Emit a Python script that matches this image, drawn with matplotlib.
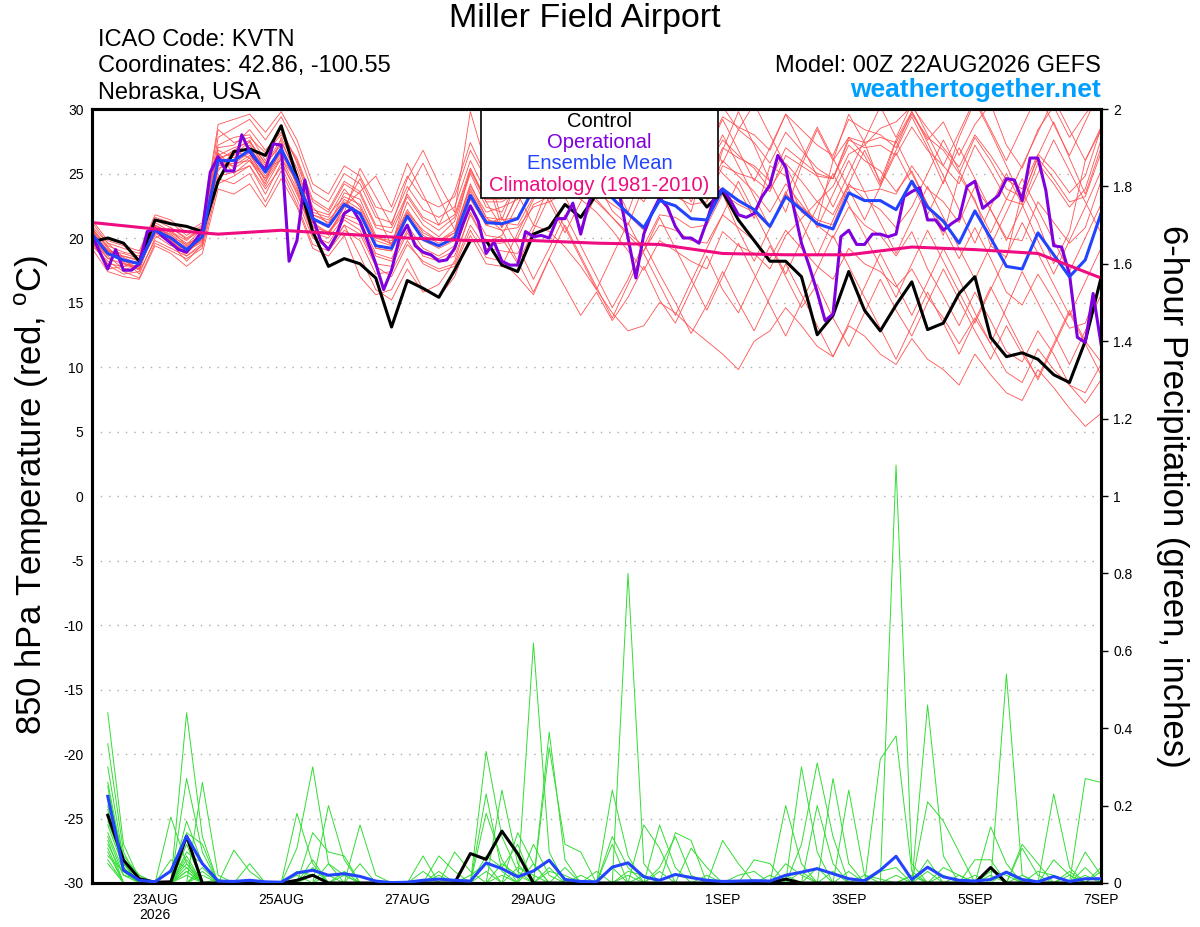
import numpy as np
import pandas as pd
import matplotlib
matplotlib.use("Agg")
import matplotlib.pyplot as plt
from matplotlib.patches import Rectangle

plt.rcParams['font.family'] = ['Liberation Sans', 'DejaVu Sans']
plt.rcParams['mathtext.fontset'] = 'custom'
plt.rcParams['mathtext.rm'] = 'Liberation Sans'
plt.rcParams['axes.unicode_minus'] = False

# ------------------------------------------------------------
# time axes (GEFS 00Z 22AUG2026 run)
# ------------------------------------------------------------
t6 = pd.date_range("2026-08-22 00:00", periods=65, freq="6h")   # ensemble, 6-hourly
t3 = pd.date_range("2026-08-22 00:00", periods=129, freq="3h")  # operational, 3-hourly
t24 = pd.date_range("2026-08-22 00:00", periods=17, freq="D")   # climatology, daily
tp = t6[1:]                                                     # 6-hour precip totals

xtick_dates = ["2026-08-23", "2026-08-25", "2026-08-27", "2026-08-29",
               "2026-09-01", "2026-09-03", "2026-09-05", "2026-09-07"]
xtick_labels = ["23AUG\n2026", "25AUG", "27AUG", "29AUG", "1SEP", "3SEP", "5SEP", "7SEP"]

# ------------------------------------------------------------
# 850 hPa temperature (C)
# ------------------------------------------------------------
control = [19.7, 20.0, 19.6, 18.2, 21.4, 21.1, 20.9, 20.5, 24.4, 26.7, 26.9, 26.4, 28.7,
           24.7, 20.5, 17.8, 18.4, 18.0, 16.9, 13.1, 16.7, 16.1, 15.4, 17.5, 19.8, 19.8,
           17.9, 17.4, 20.3, 20.8, 22.6, 21.6, 23.4, 24.5, 25.0, 24.6, 24.2, 24.6, 24.0,
           22.4, 23.6, 21.4, 19.8, 18.2, 18.2, 17.0, 12.5, 14.0, 17.4, 14.4, 12.8, 14.8,
           16.6, 12.9, 13.4, 15.7, 17.0, 12.3, 10.8, 11.1, 10.6, 9.4, 8.8, 12.0, 16.9]

operational = [20.2, 18.9, 17.6, 19.1, 17.5, 17.5, 18.0, 20.5,
               20.7, 20.1, 19.6, 19.1, 18.9, 19.7, 20.6, 25.1,
               26.3, 25.2, 25.2, 28.0, 26.7, 25.9, 25.3, 27.3,
               27.2, 18.2, 19.8, 24.5, 21.6, 19.8, 19.1, 20.2,
               21.9, 22.3, 21.3, 19.7, 18.0, 16.0, 17.5, 20.0,
               21.0, 19.4, 18.9, 18.7, 18.2, 18.3, 19.2, 21.0,
               22.5, 21.3, 18.8, 19.7, 18.2, 17.9, 17.9, 20.5,
               20.1, 20.2, 20.0, 21.5, 21.5, 22.7, 20.3, 22.7,
               24.2, 24.8, 24.9, 23.1, 20.0, 16.9, 20.3, 21.9,
               23.1, 22.4, 20.9, 20.0, 20.0, 19.6, 21.3, 23.3,
               23.8, 22.9, 21.8, 21.6, 21.9, 23.2, 24.1, 26.4,
               25.5, 22.4, 19.6, 17.8, 15.8, 13.6, 14.1, 20.1,
               20.6, 19.5, 19.5, 20.3, 20.3, 20.1, 20.3, 23.2,
               23.6, 23.9, 21.4, 21.4, 20.6, 21.1, 21.5, 24.0,
               24.4, 22.3, 22.8, 23.3, 24.6, 24.5, 22.9, 26.2,
               26.2, 23.7, 19.4, 19.3, 17.2, 12.3, 11.9, 15.7,
               11.8]

ens_mean = [20.3, 18.8, 18.3, 18.0, 20.6, 20.0, 19.1, 20.1, 26.0, 26.0, 26.8, 25.1, 26.9,
            24.5, 21.5, 20.9, 22.6, 21.9, 19.4, 19.2, 21.7, 19.9, 19.4, 20.0, 23.3, 21.2,
            21.1, 21.5, 23.8, 24.2, 24.6, 24.8, 24.2, 23.1, 21.9, 20.8, 22.9, 22.5, 21.5,
            21.4, 23.8, 22.9, 22.2, 20.9, 23.2, 22.2, 21.1, 20.7, 23.5, 22.9, 22.9, 22.2,
            24.4, 22.4, 21.3, 19.6, 22.1, 20.0, 17.8, 17.6, 20.4, 18.7, 17.0, 18.3, 21.9]

climatology = [21.2, 20.7, 20.3, 20.6, 20.3, 20.0, 19.8, 19.8, 19.6,
               19.5, 18.8, 18.7, 18.7, 19.3, 19.1, 18.8, 16.9]

t_m01 = [20.8, 19.2, 18.0, 17.6, 21.2, 20.5, 19.8, 20.9, 27.2, 27.8, 28.0, 26.0, 28.6,
         25.8, 22.4, 21.0, 23.5, 23.0, 20.2, 19.5, 22.8, 21.0, 20.1, 21.3, 25.0, 22.4,
         22.0, 24.5, 26.0, 27.0, 26.1, 25.0, 24.4, 22.1, 21.0, 24.0, 25.2, 23.8, 22.0,
         26.5, 25.0, 23.8, 21.5, 25.6, 24.8, 22.0, 21.2, 26.0, 27.8, 26.4, 24.0, 27.5,
         25.0, 22.6, 20.2, 24.8, 23.0, 19.4, 18.5, 23.6, 21.2, 18.0, 20.5, 26.0, 28.4]
t_m02 = [19.6, 17.9, 17.2, 17.4, 19.8, 19.2, 18.6, 19.4, 24.8, 25.1, 25.6, 23.8, 25.5,
         23.0, 20.0, 19.2, 21.0, 20.3, 17.8, 17.0, 19.5, 18.2, 17.6, 18.0, 21.0, 19.2,
         19.0, 18.8, 21.0, 20.5, 19.3, 17.8, 16.0, 14.2, 12.8, 13.2, 15.0, 14.2, 13.0,
         12.0, 11.0, 9.8, 12.0, 12.8, 14.6, 13.2, 11.6, 10.8, 13.2, 12.4, 11.0, 10.2,
         12.2, 10.6, 9.8, 8.6, 11.0, 9.4, 8.0, 7.4, 9.8, 8.4, 6.8, 5.4, 6.4]
t_m03 = [20.1, 18.4, 18.6, 18.3, 21.0, 20.2, 19.0, 19.7, 25.6, 26.4, 27.5, 25.8, 27.2,
         24.0, 20.8, 20.5, 22.0, 25.4, 23.2, 21.0, 24.6, 26.8, 24.2, 22.0, 29.8, 25.6,
         21.4, 24.6, 27.2, 29.6, 27.0, 24.8, 28.2, 30.4, 27.0, 24.6, 26.2, 28.8, 26.4,
         23.0, 26.8, 29.8, 27.2, 24.4, 22.0, 25.6, 28.4, 26.0, 29.6, 27.4, 24.2, 26.8,
         29.4, 27.0, 24.2, 27.8, 30.6, 28.2, 25.6, 23.0, 26.4, 29.0, 26.2, 23.4, 27.0]
t_m04 = [19.9, 17.6, 17.8, 17.9, 20.4, 19.6, 18.2, 19.5, 26.5, 25.0, 26.0, 24.2, 27.8,
         25.4, 22.0, 21.6, 23.8, 22.4, 20.0, 19.8, 22.0, 20.6, 19.8, 20.4, 24.2, 21.6,
         20.6, 20.8, 22.4, 22.8, 23.5, 23.0, 22.0, 20.6, 19.0, 17.5, 19.8, 19.0, 18.2,
         17.6, 20.5, 19.4, 18.8, 17.6, 20.2, 21.5, 22.8, 24.0, 26.5, 27.2, 28.5, 29.0,
         30.2, 28.5, 27.0, 25.5, 28.0, 26.4, 24.5, 23.8, 26.5, 25.2, 23.5, 24.8, 28.5]
t_m05 = [20.5, 18.9, 18.4, 17.2, 20.0, 20.6, 19.4, 20.4, 24.6, 24.2, 25.0, 22.8, 25.2,
         22.6, 19.5, 19.0, 20.6, 19.8, 17.2, 17.4, 19.8, 18.0, 17.4, 17.8, 20.6, 18.5,
         18.2, 17.0, 15.6, 18.4, 16.2, 14.0, 15.8, 13.6, 15.4, 17.8, 15.2, 13.4, 16.0,
         18.6, 16.0, 14.2, 16.8, 19.4, 17.0, 14.6, 16.4, 13.8, 11.6, 14.2, 16.8, 14.4,
         12.4, 15.0, 17.6, 15.2, 12.8, 10.6, 13.2, 11.0, 9.2, 11.8, 14.4, 12.0, 10.4]
t_m06 = [20.7, 19.4, 18.9, 18.6, 21.4, 20.8, 19.9, 20.6, 27.8, 28.5, 29.2, 27.6, 29.4,
         27.0, 23.6, 22.8, 25.0, 24.2, 21.6, 21.2, 24.0, 22.2, 21.6, 22.4, 26.0, 23.5,
         23.2, 23.8, 26.4, 27.0, 27.8, 28.0, 27.4, 26.2, 24.8, 23.6, 25.8, 25.0, 23.8,
         23.4, 26.0, 24.8, 23.6, 22.0, 24.2, 22.6, 21.0, 20.0, 22.4, 21.0, 20.2, 18.6,
         20.5, 17.6, 15.5, 13.2, 15.8, 13.6, 11.2, 10.4, 12.8, 11.0, 8.6, 7.2, 9.0]
t_m07 = [20.0, 18.6, 17.6, 17.8, 20.8, 19.8, 18.8, 20.2, 25.2, 26.8, 26.2, 24.6, 26.4,
         24.8, 21.2, 20.2, 22.4, 24.6, 22.0, 19.4, 23.6, 25.8, 23.2, 20.6, 25.4, 22.8,
         20.8, 23.4, 26.8, 28.8, 26.2, 29.4, 27.0, 24.6, 22.0, 25.4, 28.0, 30.2, 28.6,
         26.0, 23.4, 20.6, 18.2, 20.8, 23.6, 21.2, 18.6, 21.4, 24.2, 26.8, 24.4, 27.6,
         29.8, 27.4, 24.8, 22.2, 19.6, 22.4, 25.0, 22.6, 19.8, 17.2, 19.8, 22.4, 25.2]
t_m08 = [20.4, 19.0, 18.2, 18.0, 20.2, 19.4, 19.2, 19.8, 26.2, 26.6, 27.0, 25.4, 26.0,
         23.4, 20.6, 20.4, 21.8, 21.4, 18.8, 18.4, 21.0, 19.2, 18.6, 19.4, 23.0, 21.0,
         21.6, 19.4, 16.8, 19.2, 21.8, 19.4, 17.0, 14.6, 16.8, 19.6, 17.2, 15.0, 12.6,
         14.8, 17.4, 15.0, 12.8, 15.4, 18.0, 15.6, 13.2, 10.8, 13.4, 16.2, 18.8, 16.4,
         14.0, 16.6, 19.2, 16.8, 14.2, 11.8, 14.6, 17.4, 15.0, 12.6, 10.2, 12.8, 15.6]
t_m09 = [21.2, 19.6, 19.2, 18.8, 21.6, 21.2, 20.2, 21.0, 28.4, 27.4, 27.8, 26.6, 28.0,
         26.2, 23.0, 22.2, 24.4, 23.6, 21.0, 20.8, 23.4, 21.6, 21.0, 21.8, 25.4, 23.0,
         23.0, 23.4, 25.8, 26.4, 25.8, 26.6, 26.2, 25.0, 24.0, 22.8, 25.2, 24.6, 24.0,
         24.2, 27.0, 26.2, 25.6, 24.4, 27.0, 26.0, 25.0, 24.6, 27.6, 27.0, 27.2, 26.4,
         28.6, 26.8, 25.6, 24.2, 27.2, 25.2, 23.0, 22.6, 25.8, 24.2, 22.4, 23.8, 27.6]
t_m10 = [19.4, 18.2, 17.4, 16.9, 19.6, 19.0, 18.4, 19.2, 24.2, 24.8, 25.6, 23.4, 25.8,
         23.6, 20.2, 19.6, 21.4, 20.6, 18.0, 17.8, 20.4, 18.6, 18.2, 18.6, 21.8, 19.6,
         19.6, 20.0, 22.6, 23.2, 24.0, 24.6, 23.6, 22.6, 21.8, 20.6, 23.0, 23.2, 22.6,
         22.8, 25.6, 25.0, 24.6, 23.6, 26.4, 25.6, 24.8, 24.6, 27.8, 27.4, 27.8, 27.4,
         29.6, 27.8, 26.8, 25.0, 27.8, 26.0, 23.8, 23.2, 26.2, 24.6, 22.8, 23.2, 26.6]
t_m11 = [20.6, 19.0, 18.8, 18.4, 21.0, 20.4, 19.6, 20.0, 25.8, 25.6, 26.4, 24.8, 26.6,
         24.2, 21.8, 21.4, 22.8, 22.0, 19.2, 19.0, 21.8, 20.0, 19.4, 20.2, 23.6, 21.4,
         21.2, 21.0, 23.2, 23.8, 24.2, 24.0, 23.0, 21.6, 20.2, 19.0, 21.0, 20.6, 19.8,
         19.6, 21.8, 20.8, 19.8, 18.4, 20.6, 19.2, 17.8, 16.8, 19.2, 18.0, 17.4, 16.2,
         17.6, 15.4, 13.8, 11.8, 13.8, 11.8, 9.6, 8.8, 11.4, 9.8, 8.6, 8.0, 10.2]
t_m12 = [19.8, 18.4, 18.0, 17.6, 20.6, 19.6, 18.8, 20.0, 26.8, 26.2, 27.2, 25.6, 27.4,
         25.0, 22.2, 21.8, 23.2, 22.6, 20.0, 19.6, 22.2, 20.4, 19.8, 20.6, 24.0, 22.0,
         22.4, 23.0, 25.4, 26.0, 26.8, 27.6, 27.0, 26.0, 25.2, 24.4, 26.8, 26.6, 26.0,
         25.4, 27.6, 26.4, 25.4, 23.8, 25.8, 24.4, 22.8, 21.8, 24.2, 23.0, 22.2, 20.8,
         22.4, 25.0, 27.6, 25.2, 22.8, 20.4, 23.0, 25.6, 28.2, 30.8, 28.4, 26.0, 28.6]
t_m13 = [20.2, 18.8, 18.6, 18.2, 20.8, 20.0, 19.2, 20.4, 26.0, 26.8, 27.6, 25.2, 27.0,
         24.6, 21.0, 19.0, 21.0, 18.6, 16.0, 15.2, 17.6, 15.8, 16.4, 18.2, 22.0, 19.6,
         20.2, 22.6, 25.2, 22.8, 20.4, 22.8, 25.6, 28.2, 25.8, 23.4, 26.0, 28.6, 30.6,
         28.2, 25.8, 28.4, 30.4, 28.0, 25.6, 23.2, 20.8, 23.4, 26.0, 23.6, 21.2, 18.8,
         21.4, 24.0, 21.6, 19.2, 16.8, 19.4, 22.0, 24.6, 22.2, 19.8, 17.4, 20.0, 22.6]
t_m14 = [20.9, 19.6, 18.5, 17.9, 20.3, 20.8, 20.0, 20.8, 27.0, 27.2, 28.4, 26.8, 28.2,
         26.0, 22.8, 22.0, 24.2, 23.4, 20.8, 20.4, 23.2, 21.4, 20.6, 21.6, 25.2, 22.8,
         22.8, 23.6, 26.2, 27.2, 28.0, 28.8, 28.6, 27.4, 26.4, 25.2, 27.6, 27.4, 26.6,
         26.8, 29.4, 28.6, 28.0, 26.8, 29.6, 28.4, 27.2, 26.4, 29.2, 28.4, 28.0, 27.0,
         29.8, 27.6, 29.0, 26.4, 28.8, 30.4, 27.2, 25.4, 28.4, 30.2, 27.8, 29.6, 31.0]
t_m15 = [19.7, 18.0, 17.8, 18.2, 20.6, 19.8, 18.6, 19.6, 25.4, 25.8, 26.6, 24.4, 26.2,
         23.8, 20.4, 20.0, 21.6, 21.0, 18.6, 18.2, 20.6, 18.8, 18.4, 19.0, 22.4, 20.2,
         20.0, 18.0, 20.6, 23.2, 20.8, 18.4, 16.0, 18.6, 21.2, 18.8, 16.4, 14.0, 16.6,
         19.2, 21.8, 24.4, 22.0, 19.6, 17.2, 19.8, 22.4, 25.0, 22.6, 20.2, 17.8, 15.4,
         18.0, 20.6, 18.2, 15.8, 13.4, 16.0, 18.6, 21.2, 18.8, 16.4, 14.0, 16.6, 19.2]
t_m16 = [20.3, 19.1, 18.3, 18.1, 20.7, 20.3, 19.3, 20.3, 26.4, 27.0, 27.4, 25.8, 27.6,
         24.8, 21.8, 21.2, 23.0, 22.2, 19.8, 19.4, 22.0, 20.2, 19.6, 20.4, 23.8, 21.6,
         21.4, 21.6, 23.6, 23.8, 23.4, 23.6, 22.8, 21.6, 20.4, 19.4, 21.8, 21.6, 20.8,
         21.0, 23.4, 22.6, 22.0, 20.8, 23.4, 22.4, 21.4, 21.0, 24.0, 23.6, 23.8, 23.4,
         25.6, 23.8, 22.8, 21.2, 24.0, 22.2, 20.0, 19.8, 22.8, 21.2, 19.6, 20.8, 24.4]
t_m17 = [21.4, 19.8, 19.4, 19.0, 21.8, 21.4, 20.4, 21.2, 28.8, 29.2, 29.6, 28.2, 29.8,
         27.6, 24.2, 23.4, 25.6, 24.8, 22.4, 22.0, 24.8, 23.0, 22.4, 23.2, 26.8, 24.6,
         24.4, 25.2, 27.8, 28.6, 29.4, 30.6, 31.0, 29.8, 28.0, 26.6, 28.8, 29.4, 30.4,
         30.8, 30.2, 28.4, 27.4, 25.8, 28.2, 26.8, 25.4, 24.6, 27.2, 26.0, 25.2, 23.6,
         25.2, 22.6, 20.8, 18.4, 20.8, 18.4, 15.8, 14.8, 17.2, 15.2, 13.0, 13.4, 16.6]
t_m18 = [19.2, 17.4, 17.0, 16.8, 19.4, 18.8, 17.8, 18.8, 23.8, 23.4, 24.2, 22.4, 24.6,
         22.4, 19.2, 18.6, 20.2, 17.0, 15.6, 16.0, 18.4, 16.0, 15.4, 17.0, 20.2, 18.0,
         17.8, 20.4, 23.0, 25.6, 23.2, 20.8, 23.4, 26.0, 28.6, 26.2, 23.8, 26.4, 29.0,
         26.6, 29.2, 26.8, 24.4, 27.0, 29.6, 27.2, 24.8, 22.4, 25.0, 27.6, 30.2, 27.8,
         30.4, 28.0, 25.6, 28.2, 30.8, 28.4, 26.0, 28.6, 31.2, 28.8, 26.4, 29.0, 31.6]
t_m19 = [20.6, 19.3, 18.1, 17.5, 20.9, 20.1, 19.5, 20.7, 26.6, 25.4, 26.2, 24.0, 26.2,
         24.4, 21.4, 20.8, 22.6, 21.8, 19.2, 19.0, 21.6, 19.8, 19.2, 19.8, 23.2, 21.0,
         20.6, 18.2, 15.8, 18.4, 21.0, 18.6, 16.2, 13.8, 16.4, 19.0, 21.6, 19.2, 16.8,
         14.4, 17.0, 19.6, 17.2, 14.8, 12.4, 15.0, 17.6, 20.2, 17.8, 15.4, 13.0, 10.6,
         13.2, 15.8, 13.4, 11.0, 13.6, 16.2, 13.8, 11.4, 9.0, 11.6, 14.2, 11.8, 9.4]
t_m20 = [20.0, 18.7, 18.2, 17.7, 20.5, 19.9, 18.9, 19.9, 25.6, 25.8, 26.0, 24.6, 26.8,
         24.2, 21.2, 20.4, 22.4, 23.6, 24.8, 22.4, 25.8, 23.4, 21.0, 23.6, 27.4, 24.8,
         20.8, 23.4, 21.0, 24.2, 27.0, 29.6, 27.2, 24.8, 27.4, 30.0, 27.6, 25.2, 22.8,
         25.4, 28.0, 25.6, 23.2, 20.8, 23.4, 26.0, 28.6, 26.2, 23.8, 21.4, 24.0, 26.6,
         24.2, 21.8, 24.4, 27.0, 24.6, 22.2, 19.8, 22.4, 25.0, 27.6, 25.2, 22.8, 20.4]

temp_members = [t_m01, t_m02, t_m03, t_m04, t_m05, t_m06, t_m07, t_m08, t_m09, t_m10,
                t_m11, t_m12, t_m13, t_m14, t_m15, t_m16, t_m17, t_m18, t_m19, t_m20]

# ------------------------------------------------------------
# 6-hour precipitation (inches), steps 1..64
# ------------------------------------------------------------
precip_mean = [0.224, 0.033, 0.007, 0.003, 0.031, 0.121, 0.050, 0.005,
               0.004, 0.007, 0.003, 0.002, 0.026, 0.033, 0.020, 0.024,
               0.017, 0.005, 0.001, 0.002, 0.007, 0.010, 0.007, 0.005,
               0.052, 0.037, 0.016, 0.031, 0.059, 0.009, 0.004, 0.003,
               0.041, 0.052, 0.016, 0.007, 0.022, 0.014, 0.007, 0.004,
               0.005, 0.006, 0.005, 0.020, 0.028, 0.037, 0.024, 0.011,
               0.006, 0.033, 0.069, 0.009, 0.041, 0.016, 0.007, 0.005,
               0.009, 0.028, 0.009, 0.003, 0.017, 0.004, 0.011, 0.011]

precip_control = [0.175, 0.059, 0.011, 0.002, 0.003, 0.121, 0.0, 0.0,
                  0.0, 0.0, 0.0, 0.0, 0.007, 0.020, 0.0, 0.0,
                  0.0, 0.0, 0.0, 0.0, 0.0, 0.0, 0.0, 0.076,
                  0.061, 0.134, 0.076, 0.0, 0.0, 0.0, 0.0, 0.0,
                  0.0, 0.0, 0.0, 0.0, 0.0, 0.0, 0.0, 0.0,
                  0.0, 0.0, 0.0, 0.010, 0.0, 0.0, 0.0, 0.0,
                  0.0, 0.0, 0.0, 0.0, 0.0, 0.0, 0.0, 0.0,
                  0.040, 0.0, 0.0, 0.0, 0.0, 0.0, 0.0, 0.0]

# members: {step: inches}, steps not listed are dry
p_m01 = {1: 0.44, 2: 0.10, 3: 0.01, 6: 0.16, 7: 0.05, 14: 0.06, 25: 0.18, 26: 0.06,
         34: 0.80, 35: 0.05, 46: 0.20, 47: 0.05, 58: 0.54, 59: 0.02}
p_m02 = {1: 0.36, 2: 0.08, 6: 0.44, 7: 0.12, 13: 0.09, 14: 0.30, 15: 0.05, 29: 0.39,
         30: 0.06, 45: 0.10, 46: 0.31, 47: 0.12, 53: 0.06}
p_m03 = {1: 0.26, 2: 0.05, 5: 0.17, 6: 0.05, 22: 0.07, 23: 0.03, 28: 0.62, 29: 0.08,
         33: 0.10, 36: 0.15, 37: 0.04, 51: 1.08, 52: 0.05, 63: 0.08, 64: 0.02}
p_m04 = {1: 0.25, 2: 0.03, 6: 0.27, 7: 0.08, 15: 0.20, 16: 0.06, 25: 0.34, 26: 0.12,
         27: 0.03, 44: 0.20, 45: 0.05, 53: 0.46, 54: 0.07}
p_m05 = {1: 0.18, 2: 0.05, 7: 0.26, 8: 0.02, 13: 0.18, 14: 0.05, 26: 0.24, 27: 0.05,
         33: 0.24, 34: 0.07, 47: 0.27, 48: 0.05, 61: 0.23, 62: 0.04}
p_m06 = {1: 0.15, 2: 0.04, 6: 0.13, 7: 0.10, 17: 0.15, 18: 0.02, 25: 0.23, 26: 0.03,
         37: 0.13, 38: 0.11, 50: 0.32, 51: 0.38, 52: 0.03, 63: 0.27, 64: 0.26}
p_m07 = {1: 0.12, 2: 0.02, 6: 0.10, 9: 0.085, 10: 0.03, 21: 0.07, 29: 0.35, 30: 0.10,
         31: 0.08, 40: 0.11, 41: 0.05, 57: 0.145, 58: 0.05}
p_m08 = {1: 0.09, 6: 0.08, 7: 0.05, 14: 0.13, 15: 0.08, 16: 0.07, 27: 0.13, 28: 0.05,
         35: 0.15, 36: 0.09, 53: 0.21, 54: 0.16, 55: 0.08}
p_m09 = {1: 0.07, 2: 0.03, 6: 0.06, 10: 0.05, 23: 0.08, 24: 0.03, 28: 0.10, 29: 0.02,
         45: 0.30, 46: 0.08, 59: 0.10, 60: 0.05}
p_m10 = {1: 0.05, 5: 0.06, 6: 0.04, 15: 0.05, 16: 0.02, 22: 0.02, 25: 0.07, 26: 0.04,
         27: 0.10, 33: 0.12, 34: 0.04, 48: 0.24, 49: 0.02, 56: 0.06, 57: 0.06}
p_m11 = {1: 0.30, 2: 0.06, 3: 0.02, 7: 0.04, 17: 0.05, 21: 0.03, 26: 0.05, 27: 0.02,
         38: 0.09, 39: 0.04, 42: 0.06, 43: 0.05, 59: 0.09, 60: 0.02}
p_m12 = {1: 0.20, 2: 0.04, 6: 0.05, 14: 0.04, 30: 0.04, 32: 0.03, 36: 0.04, 37: 0.12,
         38: 0.02, 50: 0.03, 51: 0.04, 61: 0.06, 62: 0.02}
p_m13 = {1: 0.10, 2: 0.02, 3: 0.01, 8: 0.01, 24: 0.02, 25: 0.05, 29: 0.04, 44: 0.05,
         45: 0.02, 54: 0.04, 55: 0.02, 63: 0.04}
p_m14 = {1: 0.08, 6: 0.02, 13: 0.03, 14: 0.02, 28: 0.05, 34: 0.03, 35: 0.02, 46: 0.04,
         52: 0.02, 57: 0.03, 58: 0.02}
p_m15 = {1: 0.13, 2: 0.03, 7: 0.03, 16: 0.03, 26: 0.02, 33: 0.04, 41: 0.02, 42: 0.03,
         49: 0.02, 50: 0.01, 62: 0.03, 64: 0.04}
p_m16 = {1: 0.22, 2: 0.07, 3: 0.02, 6: 0.07, 15: 0.02, 31: 0.02, 36: 0.03, 48: 0.03,
         55: 0.02, 60: 0.03, 61: 0.02}
p_m17 = {1: 0.06, 6: 0.03, 14: 0.02, 27: 0.04, 28: 0.02, 39: 0.02, 47: 0.03, 56: 0.02,
         58: 0.03}
p_m18 = {1: 0.16, 2: 0.05, 7: 0.02, 13: 0.02, 29: 0.03, 30: 0.02, 43: 0.02, 51: 0.02,
         53: 0.03, 64: 0.03}
p_m19 = {1: 0.11, 6: 0.04, 16: 0.02, 25: 0.03, 35: 0.02, 45: 0.03, 54: 0.02, 59: 0.02,
         63: 0.02}
p_m20 = {1: 0.19, 2: 0.03, 6: 0.03, 22: 0.03, 34: 0.02, 44: 0.02, 52: 0.02, 57: 0.02,
         62: 0.02}

precip_members = [p_m01, p_m02, p_m03, p_m04, p_m05, p_m06, p_m07, p_m08, p_m09, p_m10,
                  p_m11, p_m12, p_m13, p_m14, p_m15, p_m16, p_m17, p_m18, p_m19, p_m20]

# ------------------------------------------------------------
# colours
# ------------------------------------------------------------
C_MEMBER = "#ff5252"
C_PMEMBER = "#33dd33"
C_CONTROL = "#000000"
C_OPER = "#7f00dd"
C_MEAN = "#2244ff"
C_CLIM = "#ee0c80"
C_SITE = "#009fff"

W, H = 1200, 927
fig = plt.figure(figsize=(W / 100, H / 100), dpi=100)
ax = fig.add_axes([92 / W, 1 - 883 / H, 1009 / W, 774 / H])
ax2 = ax.twinx()

for v in range(-25, 30, 5):
    ax.axhline(v, color="#aaaaaa", lw=1.0, ls=(0, (1, 5)), zorder=1)

for m in temp_members:
    ax.plot(t6, m, color=C_MEMBER, lw=0.6, zorder=2)

ax.plot(t6, control, color=C_CONTROL, lw=2.2, zorder=4)
ax.plot(t3, operational, color=C_OPER, lw=2.2, zorder=5)
ax.plot(t6, ens_mean, color=C_MEAN, lw=2.2, zorder=6)
ax.plot(t24, climatology, color=C_CLIM, lw=2.2, zorder=7)

for m in precip_members:
    vals = [m.get(i, 0.0) for i in range(1, 65)]
    ax2.plot(tp, vals, color=C_PMEMBER, lw=0.7, zorder=2)
ax2.plot(tp, precip_control, color=C_CONTROL, lw=2.2, zorder=4)
ax2.plot(tp, precip_mean, color=C_MEAN, lw=2.2, zorder=5)

ax.set_xlim(t6[0], t6[-1])
ax.set_ylim(-30, 30)
ax2.set_ylim(0, 2)

ax.set_yticks(range(-30, 31, 5))
ax.tick_params(axis="y", length=0, pad=6, labelsize=10)
ax2.set_yticks(np.arange(0, 2.01, 0.2))
ax2.set_yticklabels([f"{v:g}" for v in np.arange(0, 2.01, 0.2)])
ax2.tick_params(axis="y", length=5, width=1, pad=4, labelsize=10)

ax.set_xticks(pd.to_datetime(xtick_dates))
ax.set_xticklabels(xtick_labels, fontsize=10, linespacing=1.1)
ax.tick_params(axis="x", length=0, pad=7)

for a in (ax, ax2):
    for s in a.spines.values():
        s.set_linewidth(2.2)

# legend box drawn over the temperature lines
x0, x1 = (481 - 92) / 1009, (718 - 92) / 1009
y0 = (883 - 198) / 774
ax.add_patch(Rectangle((x0, y0), x1 - x0, 1 - y0, transform=ax.transAxes,
                       facecolor="white", edgecolor="black", lw=1.2, zorder=10,
                       clip_on=False))
leg_items = [("Control", C_CONTROL, 121), ("Operational", C_OPER, 142),
             ("Ensemble Mean", C_MEAN, 163), ("Climatology (1981-2010)", C_CLIM, 185)]
for txt, col, ypx in leg_items:
    ax.text((x0 + x1) / 2, (883 - ypx) / 774, txt, transform=ax.transAxes,
            ha="center", va="center", fontsize=14.5, color=col, zorder=11)

# header
fig.text(585 / W, 1 - 18 / H, "Miller Field Airport", ha="center", va="center", fontsize=24.5)
fig.text(98 / W, 1 - 40 / H, "ICAO Code: KVTN", ha="left", va="center", fontsize=17)
fig.text(98 / W, 1 - 66 / H, "Coordinates: 42.86, -100.55", ha="left", va="center", fontsize=17)
fig.text(98 / W, 1 - 93 / H, "Nebraska, USA", ha="left", va="center", fontsize=17)
fig.text(1101 / W, 1 - 66 / H, "Model: 00Z 22AUG2026 GEFS", ha="right", va="center", fontsize=17)
fig.text(1101 / W, 1 - 90 / H, "weathertogether.net", ha="right", va="center",
         fontsize=19, fontweight="bold", color=C_SITE)

fig.text(32 / W, 1 - 495 / H, "850 hPa Temperature (red, $^\\mathrm{o}$C)", rotation=90,
         ha="center", va="center", fontsize=25)
fig.text(1172 / W, 1 - 496 / H, "6-hour Precipitation (green, inches)", rotation=270,
         ha="center", va="center", fontsize=25)

fig.savefig("out.png", dpi=100)
